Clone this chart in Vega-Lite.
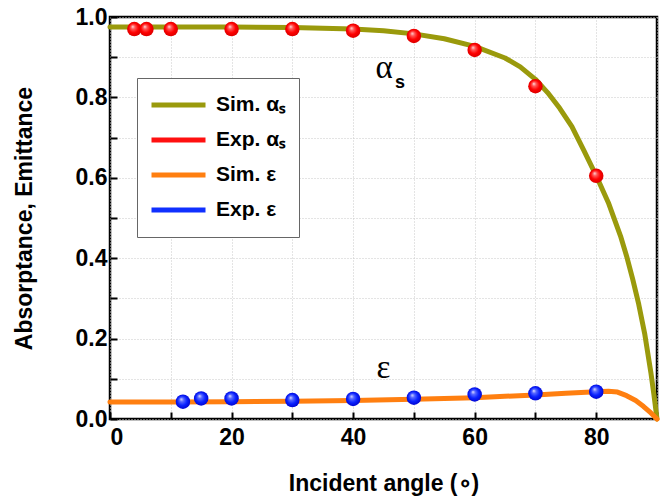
{
  "$schema": "https://vega.github.io/schema/vega-lite/v6.json",
  "width": 547,
  "height": 402,
  "autosize": "none",
  "padding": {"left": 110, "top": 17, "right": 8, "bottom": 79},
  "background": "white",
  "config": {
    "view": {"stroke": "black", "strokeWidth": 2.5},
    "font": "Liberation Sans"
  },
  "datasets": {
    "sim": [
      {"series": "Sim. αₛ", "angle": 0, "value": 0.975},
      {"series": "Sim. αₛ", "angle": 10, "value": 0.975},
      {"series": "Sim. αₛ", "angle": 20, "value": 0.975},
      {"series": "Sim. αₛ", "angle": 30, "value": 0.974},
      {"series": "Sim. αₛ", "angle": 35, "value": 0.972},
      {"series": "Sim. αₛ", "angle": 40, "value": 0.970},
      {"series": "Sim. αₛ", "angle": 45, "value": 0.966},
      {"series": "Sim. αₛ", "angle": 50, "value": 0.958},
      {"series": "Sim. αₛ", "angle": 55, "value": 0.946},
      {"series": "Sim. αₛ", "angle": 60, "value": 0.927},
      {"series": "Sim. αₛ", "angle": 65, "value": 0.898},
      {"series": "Sim. αₛ", "angle": 67.5, "value": 0.876},
      {"series": "Sim. αₛ", "angle": 70, "value": 0.845},
      {"series": "Sim. αₛ", "angle": 72, "value": 0.812},
      {"series": "Sim. αₛ", "angle": 74, "value": 0.773},
      {"series": "Sim. αₛ", "angle": 76, "value": 0.727},
      {"series": "Sim. αₛ", "angle": 78, "value": 0.667},
      {"series": "Sim. αₛ", "angle": 80, "value": 0.605},
      {"series": "Sim. αₛ", "angle": 82, "value": 0.538},
      {"series": "Sim. αₛ", "angle": 84, "value": 0.455},
      {"series": "Sim. αₛ", "angle": 85, "value": 0.405},
      {"series": "Sim. αₛ", "angle": 86, "value": 0.348},
      {"series": "Sim. αₛ", "angle": 87, "value": 0.285},
      {"series": "Sim. αₛ", "angle": 88, "value": 0.210},
      {"series": "Sim. αₛ", "angle": 89, "value": 0.115},
      {"series": "Sim. αₛ", "angle": 89.5, "value": 0.060},
      {"series": "Sim. αₛ", "angle": 90, "value": 0.0},
      {"series": "Sim. ε", "angle": 0, "value": 0.042},
      {"series": "Sim. ε", "angle": 10, "value": 0.042},
      {"series": "Sim. ε", "angle": 20, "value": 0.043},
      {"series": "Sim. ε", "angle": 30, "value": 0.044},
      {"series": "Sim. ε", "angle": 40, "value": 0.046},
      {"series": "Sim. ε", "angle": 50, "value": 0.049},
      {"series": "Sim. ε", "angle": 60, "value": 0.053},
      {"series": "Sim. ε", "angle": 70, "value": 0.060},
      {"series": "Sim. ε", "angle": 75, "value": 0.064},
      {"series": "Sim. ε", "angle": 80, "value": 0.068},
      {"series": "Sim. ε", "angle": 82, "value": 0.069},
      {"series": "Sim. ε", "angle": 83.5, "value": 0.067},
      {"series": "Sim. ε", "angle": 85, "value": 0.058},
      {"series": "Sim. ε", "angle": 86.5, "value": 0.046},
      {"series": "Sim. ε", "angle": 87.8, "value": 0.031},
      {"series": "Sim. ε", "angle": 89, "value": 0.015},
      {"series": "Sim. ε", "angle": 90, "value": 0.0}
    ],
    "exp": [
      {"series": "Exp. αₛ", "angle": 4, "value": 0.970},
      {"series": "Exp. αₛ", "angle": 6, "value": 0.970},
      {"series": "Exp. αₛ", "angle": 10, "value": 0.970},
      {"series": "Exp. αₛ", "angle": 20, "value": 0.970},
      {"series": "Exp. αₛ", "angle": 30, "value": 0.970},
      {"series": "Exp. αₛ", "angle": 40, "value": 0.966},
      {"series": "Exp. αₛ", "angle": 50, "value": 0.953},
      {"series": "Exp. αₛ", "angle": 60, "value": 0.918},
      {"series": "Exp. αₛ", "angle": 70, "value": 0.828},
      {"series": "Exp. αₛ", "angle": 80, "value": 0.605},
      {"series": "Exp. ε", "angle": 12, "value": 0.043},
      {"series": "Exp. ε", "angle": 15, "value": 0.051},
      {"series": "Exp. ε", "angle": 20, "value": 0.051},
      {"series": "Exp. ε", "angle": 30, "value": 0.047},
      {"series": "Exp. ε", "angle": 40, "value": 0.050},
      {"series": "Exp. ε", "angle": 50, "value": 0.053},
      {"series": "Exp. ε", "angle": 60, "value": 0.061},
      {"series": "Exp. ε", "angle": 70, "value": 0.064},
      {"series": "Exp. ε", "angle": 80, "value": 0.068}
    ],
    "labels": [
      {"label": "α", "angle": 45.1, "value": 0.873},
      {"label": "ε", "angle": 45.0, "value": 0.127}
    ],
    "subs": [
      {"label": "s", "angle": 47.7, "value": 0.837}
    ]
  },
  "encoding": {
    "x": {
      "field": "angle", "type": "quantitative",
      "scale": {"domain": [0, 90], "nice": false, "zero": false},
      "axis": {
        "orient": "bottom",
        "values": [0, 10, 20, 30, 40, 50, 60, 70, 80, 90],
        "labelExpr": "datum.value % 20 === 0 ? datum.label : ''",
        "tickSize": -7,
        "tickWidth": 2, "tickColor": "black", "domain": false,
        "grid": true, "gridColor": "#c8c8c8", "gridDash": [1, 2], "gridWidth": 1,
        "labelFont": "Liberation Sans", "labelFontWeight": "bold", "labelFontSize": 23, "labelColor": "black",
        "labelPadding": 14,
        "title": "Incident angle (∘)",
        "titleFont": "Liberation Sans", "titleFontWeight": "bold", "titleFontSize": 23, "titleColor": "black",
        "titleBaseline": "alphabetic", "titleY": 71
      }
    },
    "y": {
      "field": "value", "type": "quantitative",
      "scale": {"domain": [0, 1], "nice": false},
      "axis": {
        "orient": "left",
        "values": [0, 0.1, 0.2, 0.3, 0.4, 0.5, 0.6, 0.7, 0.8, 0.9, 1.0],
        "format": ".1f",
        "labelExpr": "round(datum.value * 10) % 2 === 0 ? datum.label : ''",
        "tickSize": -7,
        "tickWidth": 2, "tickColor": "black", "domain": false,
        "grid": true, "gridColor": "#c8c8c8", "gridDash": [1, 2], "gridWidth": 1,
        "labelFont": "Liberation Sans", "labelFontWeight": "bold", "labelFontSize": 23, "labelColor": "black",
        "labelPadding": 10,
        "title": "Absorptance, Emittance",
        "titleFont": "Liberation Sans", "titleFontWeight": "bold", "titleFontSize": 23, "titleColor": "black",
        "titleBaseline": "alphabetic", "titleX": -79
      }
    }
  },
  "layer": [
    {
      "data": {"name": "sim"},
      "mark": {"type": "line", "strokeWidth": 5, "strokeCap": "round", "strokeJoin": "round"},
      "encoding": {
        "color": {
          "field": "series", "type": "nominal",
          "scale": {
            "domain": ["Sim. αₛ", "Exp. αₛ", "Sim. ε", "Exp. ε"],
            "range": ["#9a9a0c", "#ff1010", "#ff7f10", "#1030ff"]
          },
          "legend": {
            "orient": "none", "legendX": 27, "legendY": 61,
            "title": null,
            "strokeColor": "#666666", "fillColor": "white",
            "padding": 12,
            "symbolType": "stroke", "symbolSize": 2916, "symbolStrokeWidth": 5,
            "labelFont": "Liberation Sans", "labelFontWeight": "bold", "labelFontSize": 21, "labelColor": "black",
            "labelOffset": 8, "rowPadding": 5, "clipHeight": 30
          }
        }
      }
    },
    {
      "data": {"name": "exp"},
      "transform": [{"filter": "datum.series === 'Exp. αₛ'"}],
      "mark": {"type": "point", "filled": true, "size": 210, "opacity": 1, "strokeWidth": 0,
        "fill": {"gradient": "radial", "x1": 0.38, "y1": 0.32, "r1": 0, "x2": 0.5, "y2": 0.5, "r2": 0.55, "stops": [{"offset": 0, "color": "#ffe6e6"}, {"offset": 0.25, "color": "#ff5a5a"}, {"offset": 0.6, "color": "#ff0000"}, {"offset": 1, "color": "#d40000"}]}}
    },
    {
      "data": {"name": "exp"},
      "transform": [{"filter": "datum.series === 'Exp. ε'"}],
      "mark": {"type": "point", "filled": true, "size": 210, "opacity": 1, "strokeWidth": 0,
        "fill": {"gradient": "radial", "x1": 0.38, "y1": 0.32, "r1": 0, "x2": 0.5, "y2": 0.5, "r2": 0.55, "stops": [{"offset": 0, "color": "#e6e6ff"}, {"offset": 0.25, "color": "#5a6aff"}, {"offset": 0.6, "color": "#0a22ff"}, {"offset": 1, "color": "#0000c8"}]}}
    },
    {
      "data": {"name": "labels"},
      "mark": {"type": "text", "font": "Liberation Serif", "fontSize": 33, "align": "center", "baseline": "middle", "color": "black"},
      "encoding": {"text": {"field": "label"}}
    },
    {
      "data": {"name": "subs"},
      "mark": {"type": "text", "font": "Liberation Sans", "fontWeight": "bold", "fontSize": 18, "align": "center", "baseline": "middle", "color": "black"},
      "encoding": {"text": {"field": "label"}}
    }
  ]
}
